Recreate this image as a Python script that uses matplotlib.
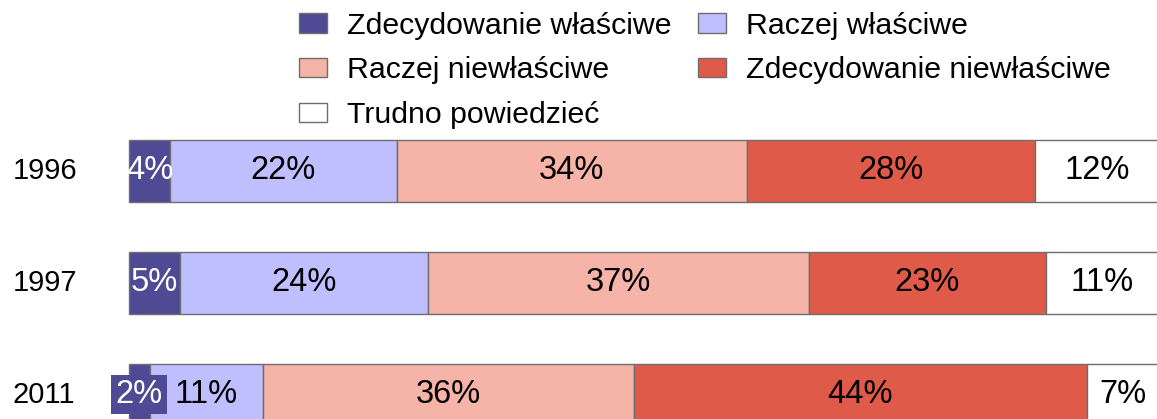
import matplotlib
matplotlib.use("Agg")
import matplotlib.pyplot as plt
import numpy as np

plt.rcParams['font.family'] = ['Liberation Sans', 'DejaVu Sans']

years = ["1996", "1997", "2011"]
categories = ["Zdecydowanie właściwe", "Raczej właściwe", "Raczej niewłaściwe",
              "Zdecydowanie niewłaściwe", "Trudno powiedzieć"]
zdecydowanie_wlasciwe = [4, 5, 2]
raczej_wlasciwe = [22, 24, 11]
raczej_niewlasciwe = [34, 37, 36]
zdecydowanie_niewlasciwe = [28, 23, 44]
trudno_powiedziec = [12, 11, 7]

series = [zdecydowanie_wlasciwe, raczej_wlasciwe, raczej_niewlasciwe,
          zdecydowanie_niewlasciwe, trudno_powiedziec]
colors = ["#4F4A94", "#BFBFFF", "#F6B3A7", "#E05A4A", "#FFFFFF"]
text_colors = ["white", "black", "black", "black", "black"]

fig = plt.figure(figsize=(11.57, 4.19), dpi=100)
ax = fig.add_axes([0, 0, 1, 1])

y = np.arange(len(years))
left = np.zeros(len(years))
bars = []
for vals, col, tcol in zip(series, colors, text_colors):
    b = ax.barh(y, vals, left=left, height=0.555, color=col,
                edgecolor="#6e6e6e", linewidth=1.0)
    bars.append(b)
    for i, v in enumerate(vals):
        kw = {}
        if v <= 2:
            # tiny segment: label sits on a box of the segment colour
            kw["bbox"] = dict(facecolor=col, edgecolor="none", pad=3)
        ax.text(left[i] + v / 2, y[i], f"{v}%", ha="center", va="center",
                fontsize=23.5, color=tcol, **kw)
    left += np.array(vals)

for i, yr in enumerate(years):
    ax.text(-11.32, y[i], yr, ha="left", va="center", fontsize=21)

ax.set_xlim(-12.52, 99.8)
ax.set_ylim(2.219, -1.530)
ax.axis("off")

# legend filled row by row like the original
order = [0, 2, 4, 1, 3]
fig.legend([bars[k] for k in order], [categories[k] for k in order],
           ncol=2, loc="upper left", bbox_to_anchor=(0.2373, 1.03),
           frameon=False, fontsize=21.8,
           handlelength=0.92, handleheight=0.6, handletextpad=0.68,
           columnspacing=0.86, labelspacing=0.55, borderpad=0.3)

fig.savefig("out.png", dpi=100)
